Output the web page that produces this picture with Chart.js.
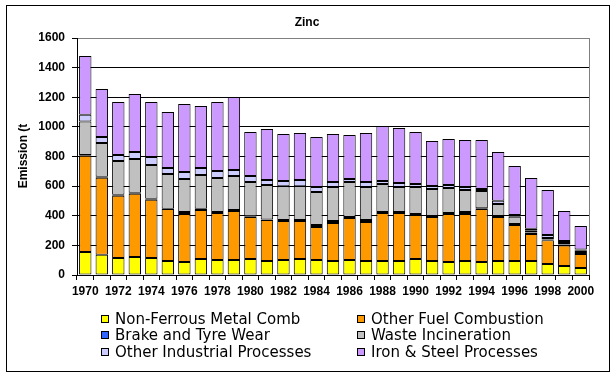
<!DOCTYPE html>
<html>
<head>
<meta charset="utf-8">
<script src="https://cdn.jsdelivr.net/npm/chart.js@4"></script>
<style>
html,body{margin:0;padding:0;background:#fff;}
canvas{display:block;}
</style>
</head>
<body>
<canvas id="c" width="616" height="377"></canvas>
<script>
const years = ["1970","1971","1972","1973","1974","1975","1976","1977","1978","1979","1980","1981","1982","1983","1984","1985","1986","1987","1988","1989","1990","1991","1992","1993","1994","1995","1996","1997","1998","1999","2000"];
const nonFerrous = [155,137,115,122,115,94,88,108,101,101,108,94,101,108,101,94,101,94,94,94,108,94,88,94,88,94,94,94,74,61,47];
const otherFuel = [650,520,420,427,393,351,324,331,317,331,284,277,263,256,223,257,284,264,324,324,297,298,324,318,357,298,243,183,160,139,95];
const brakeTyre = [5,7,7,7,7,3,13,9,7,7,4,3,7,7,13,13,6,13,7,7,7,8,6,13,5,6,7,10,5,6,14];
const wasteInc = [227,227,228,227,227,234,223,227,230,229,232,233,229,229,223,230,237,223,189,169,182,180,169,149,117,81,50,12,11,10,7];
const otherInd = [45,40,40,47,54,40,47,47,47,41,40,34,34,41,34,34,20,34,20,27,20,21,20,20,13,23,11,14,20,14,9];
const ironSteel = [396,324,358,392,372,378,459,419,466,493,297,344,318,317,337,324,297,330,372,371,351,303,311,317,331,328,331,342,304,202,158];
const yTicks = [0,200,400,600,800,1000,1200,1400,1600];
const seriesNames = ["Non-Ferrous Metal Comb","Other Fuel Combustion","Brake and Tyre Wear","Waste Incineration","Other Industrial Processes","Iron & Steel Processes"];
const seriesColors = ["#FFFF00","#FF9900","#3366FF","#C0C0C0","#CCCCFF","#CC99FF"];
const seriesValues = [nonFerrous, otherFuel, brakeTyre, wasteInc, otherInd, ironSteel];
const chartTitle = "Zinc";
const yTitle = "Emission (t";

const datasets = seriesNames.map((n, i) => ({
  label: n,
  data: seriesValues[i],
  backgroundColor: seriesColors[i],
  borderColor: "#000",
  borderWidth: 1,
  borderSkipped: false,
  barPercentage: 0.75,
  categoryPercentage: 1.0
}));

const decor = {
  id: "decor",
  beforeDraw(chart) {
    const ctx = chart.ctx;
    ctx.save();
    ctx.fillStyle = "#fff";
    ctx.fillRect(0, 0, chart.width, chart.height);
    ctx.restore();
  },
  afterDraw(chart) {
    const ctx = chart.ctx;
    const a = chart.chartArea;
    ctx.save();
    ctx.strokeStyle = "#808080";
    ctx.lineWidth = 1;
    ctx.beginPath();
    ctx.moveTo(Math.round(a.right) + 0.5, a.top);
    ctx.lineTo(Math.round(a.right) + 0.5, a.bottom);
    ctx.stroke();
    ctx.strokeStyle = "#000";
    ctx.strokeRect(6.5, 5.5, 603, 366);
    ctx.fillStyle = "#000";
    ctx.font = "bold 12px 'Liberation Sans', Arial, sans-serif";
    ctx.textAlign = "center";
    ctx.textBaseline = "middle";
    ctx.fillText(chartTitle, 307, 23);
    ctx.save();
    ctx.translate(24, 156);
    ctx.rotate(-Math.PI / 2);
    ctx.fillText(yTitle, 0, 0);
    ctx.restore();
    ctx.font = "15px 'DejaVu Sans', Verdana, sans-serif";
    ctx.textAlign = "left";
    const cols = [101, 357];
    const rows = [319, 335, 352];
    chart.data.datasets.forEach((ds, i) => {
      const cx = cols[i % 2], cy = rows[Math.floor(i / 2)];
      ctx.fillStyle = ds.backgroundColor;
      ctx.fillRect(cx, cy - 4, 8, 8);
      ctx.strokeStyle = "#000";
      ctx.strokeRect(cx + 0.5, cy - 3.5, 7, 7);
      ctx.fillStyle = "#000";
      ctx.fillText(ds.label, cx + 14, cy + 1);
    });
    ctx.restore();
  }
};

new Chart(document.getElementById("c"), {
  type: "bar",
  data: { labels: years, datasets },
  options: {
    responsive: false,
    animation: false,
    devicePixelRatio: 1,
    layout: { padding: { top: 38, right: 27, left: 0, bottom: 0 } },
    plugins: { legend: { display: false }, title: { display: false }, tooltip: { enabled: false } },
    scales: {
      x: {
        stacked: true,
        afterFit(s) { s.height = 102; },
        grid: { display: true, drawOnChartArea: false, offset: true, tickLength: 5, tickColor: "#000", color: "#000" },
        border: { color: "#000", width: 1 },
        ticks: {
          autoSkip: false, maxRotation: 0, minRotation: 0, padding: 4, color: "#000",
          font: { family: "'Liberation Sans', Arial, sans-serif", size: 12, weight: "bold" },
          callback(v, i) { return i % 2 === 0 ? years[i] : ""; }
        }
      },
      y: {
        stacked: true,
        min: yTicks[0], max: yTicks[yTicks.length - 1],
        afterFit(s) { s.width = 77; },
        afterBuildTicks(s) { s.ticks = yTicks.map(v => ({ value: v })); },
        grid: {
          color: (c) => (c.tick && c.tick.value === 1600 ? "#808080" : "#000"),
          tickColor: "#000", tickLength: 5, lineWidth: 1
        },
        border: { color: "#000", width: 1 },
        ticks: {
          padding: 7, color: "#000",
          font: { family: "'Liberation Sans', Arial, sans-serif", size: 12, weight: "bold" },
          callback(v) { return String(v); }
        }
      }
    }
  },
  plugins: [decor]
});
</script>
</body>
</html>
